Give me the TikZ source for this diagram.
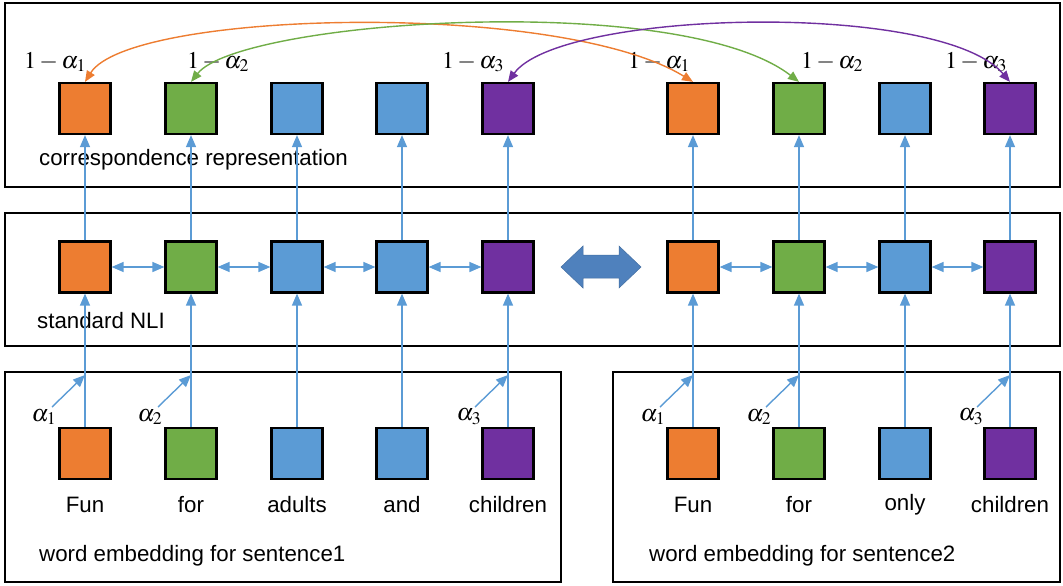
\documentclass[tikz,border=0pt]{standalone}
\usepackage{mathptmx}
\usepackage[no-math]{fontspec}
\setmainfont{Liberation Sans}
\usetikzlibrary{arrows.meta,positioning}

\definecolor{wOrange}{HTML}{ED7D31}
\definecolor{wGreen}{HTML}{70AD47}
\definecolor{wBlue}{HTML}{5B9BD5}
\definecolor{wPurple}{HTML}{7030A0}
\definecolor{wLine}{HTML}{5B9BD5}
\definecolor{wSwap}{HTML}{4F81BD}

\begin{document}
\begin{tikzpicture}
[typeO/.style={rectangle,draw,fill=wOrange,line width=2.2pt,inner sep=0pt,minimum size=51pt},
 typeG/.style={rectangle,draw,fill=wGreen,line width=2.2pt,inner sep=0pt,minimum size=51pt},
 typeB/.style={rectangle,draw,fill=wBlue,line width=2.2pt,inner sep=0pt,minimum size=51pt},
 typeP/.style={rectangle,draw,fill=wPurple,line width=2.2pt,inner sep=0pt,minimum size=51pt},
 panel/.style={draw,line width=2.4pt},
 flow/.style={draw=wLine,line width=1.4pt,-{Triangle[length=12pt,width=10pt]}},
 link/.style={draw=wLine,line width=1.4pt,{Triangle[length=12pt,width=10pt]}-{Triangle[length=12pt,width=10pt]}},
 swing/.style={line width=1.4pt,{Triangle[length=11pt,width=9pt]}-{Triangle[length=11pt,width=9pt]}},
 word/.style={font=\fontsize{22.3}{26}\selectfont,inner sep=0pt},
 weight/.style={font=\fontsize{24}{28}\selectfont,inner sep=0pt}]
\begin{scope}[x=1pt, y=-1pt]
\useasboundingbox (0,0) rectangle (1063,586);
% panels
\draw[panel] (5,3)   rectangle (1060,187);
\draw[panel] (5,213) rectangle (1060,346);
\draw[panel] (5,372) rectangle (561,582);
\draw[panel] (613,372) rectangle (1060,582);
\node[word,anchor=west] (tcor) at (39,160) {correspondence representation};
\node[word,anchor=west] (tnli) at (37,321) {standard NLI};
\node[word,anchor=west] (tea)  at (39,556) {word embedding for sentence1};
\node[word,anchor=west] (teb)  at (649,556) {word embedding for sentence2};
% word embeddings
\node[typeO] (ea1) at (  85,453.5) {};
\node[typeG] (ea2) at ( 191,453.5) {};
\node[typeB] (ea3) at ( 297,453.5) {};
\node[typeB] (ea4) at ( 402,453.5) {};
\node[typeP] (ea5) at ( 508,453.5) {};
\node[typeO] (eb1) at ( 693,453.5) {};
\node[typeG] (eb2) at ( 799,453.5) {};
\node[typeB] (eb3) at ( 905,453.5) {};
\node[typeP] (eb4) at (1010,453.5) {};
\node[word] (wa1) at (  85,505) {Fun};
\node[word] (wa2) at ( 191,505) {for};
\node[word] (wa3) at ( 297,505) {adults};
\node[word] (wa4) at ( 402,505) {and};
\node[word] (wa5) at ( 508,505) {children};
\node[word] (wb1) at ( 693,505) {Fun};
\node[word] (wb2) at ( 799,505) {for};
\node[word] (wb3) at ( 905,505) {only};
\node[word] (wb4) at (1010,505) {children};
% standard NLI
\node[typeO] (na1) at (  85,267) {};
\node[typeG] (na2) at ( 191,267) {};
\node[typeB] (na3) at ( 297,267) {};
\node[typeB] (na4) at ( 402,267) {};
\node[typeP] (na5) at ( 508,267) {};
\node[typeO] (nb1) at ( 693,267) {};
\node[typeG] (nb2) at ( 799,267) {};
\node[typeB] (nb3) at ( 905,267) {};
\node[typeP] (nb4) at (1010,267) {};
\fill[wSwap,draw=wSwap!85!black,line width=0.5pt]
   (561,267) -- (583,246) -- (583,255) -- (619,255) -- (619,246) -- (641,267)
   -- (619,288) -- (619,278) -- (583,278) -- (583,288) -- cycle;
% correspondence representation
\node[typeO] (ca1) at (  85,108.5) {};
\node[typeG] (ca2) at ( 191,108.5) {};
\node[typeB] (ca3) at ( 297,108.5) {};
\node[typeB] (ca4) at ( 402,108.5) {};
\node[typeP] (ca5) at ( 508,108.5) {};
\node[typeO] (cb1) at ( 693,108.5) {};
\node[typeG] (cb2) at ( 799,108.5) {};
\node[typeB] (cb3) at ( 905,108.5) {};
\node[typeP] (cb4) at (1010,108.5) {};
\node[weight] (ka1) at (  55,62) {$1-\alpha_1$};
\node[weight] (ka2) at ( 218,62) {$1-\alpha_2$};
\node[weight] (ka5) at ( 473,62) {$1-\alpha_3$};
\node[weight] (kb1) at ( 659,62) {$1-\alpha_1$};
\node[weight] (kb2) at ( 832,62) {$1-\alpha_2$};
\node[weight] (kb4) at ( 976,62) {$1-\alpha_3$};
% attention weights
\node[weight] (qa1) at (  44,417) {$\alpha_1$};
\node[weight] (qa2) at ( 150,417) {$\alpha_2$};
\node[weight] (qa5) at ( 469,417) {$\alpha_3$};
\node[weight] (qb1) at ( 653,417) {$\alpha_1$};
\node[weight] (qb2) at ( 759,417) {$\alpha_2$};
\node[weight] (qb4) at ( 971,417) {$\alpha_3$};
\coordinate (sa1) at (  52,407);  \coordinate (ha1) at (  85,375);
\coordinate (sa2) at ( 158,407);  \coordinate (ha2) at ( 191,375);
\coordinate (sa5) at ( 475,407);  \coordinate (ha5) at ( 508,375);
\coordinate (sb1) at ( 660,407);  \coordinate (hb1) at ( 693,375);
\coordinate (sb2) at ( 766,407);  \coordinate (hb2) at ( 799,375);
\coordinate (sb4) at ( 977,407);  \coordinate (hb4) at (1010,375);
\path (sa1) edge[flow] (ha1)
      (sa2) edge[flow] (ha2)
      (sa5) edge[flow] (ha5)
      (sb1) edge[flow] (hb1)
      (sb2) edge[flow] (hb2)
      (sb4) edge[flow] (hb4);
% vertical flow
\path (ea1.north) edge[flow] (na1.south)
      (ea2.north) edge[flow] (na2.south)
      (ea3.north) edge[flow] (na3.south)
      (ea4.north) edge[flow] (na4.south)
      (ea5.north) edge[flow] (na5.south)
      (eb1.north) edge[flow] (nb1.south)
      (eb2.north) edge[flow] (nb2.south)
      (eb3.north) edge[flow] (nb3.south)
      (eb4.north) edge[flow] (nb4.south)
      (na1.north) edge[flow] (ca1.south)
      (na2.north) edge[flow] (ca2.south)
      (na3.north) edge[flow] (ca3.south)
      (na4.north) edge[flow] (ca4.south)
      (na5.north) edge[flow] (ca5.south)
      (nb1.north) edge[flow] (cb1.south)
      (nb2.north) edge[flow] (cb2.south)
      (nb3.north) edge[flow] (cb3.south)
      (nb4.north) edge[flow] (cb4.south);
% bidirectional NLI links
\path (na1.east) edge[link] (na2.west)
      (na2.east) edge[link] (na3.west)
      (na3.east) edge[link] (na4.west)
      (na4.east) edge[link] (na5.west)
      (nb1.east) edge[link] (nb2.west)
      (nb2.east) edge[link] (nb3.west)
      (nb3.east) edge[link] (nb4.west);
% correspondence curves
\draw[swing,draw=wOrange] (ca1.north) .. controls (130,10) and (560,0) .. (cb1.north);
\draw[swing,draw=wGreen]  (ca2.north) .. controls (240,20) and (680,-10) .. (cb2.north);
\draw[swing,draw=wPurple] (ca5.north) .. controls (560,10) and (940,0) .. (cb4.north);
\end{scope}
\end{tikzpicture}
\end{document}
